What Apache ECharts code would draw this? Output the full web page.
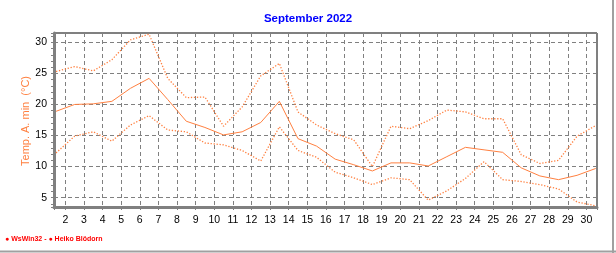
<!DOCTYPE html>
<html>
<head>
<meta charset="utf-8">
<script src="https://cdn.jsdelivr.net/npm/echarts@6/dist/echarts.min.js"></script>
<style>
html,body{margin:0;padding:0;background:#fff;}
#c{width:616px;height:253px;}
</style>
</head>
<body>
<div id="c"></div>
<script>
// Days of September 2022 (values plotted at mid-day)
var days = [1,2,3,4,5,6,7,8,9,10,11,12,13,14,15,16,17,18,19,20,21,22,23,24,25,26,27,28,29,30];
// upper dotted line
var upperValues = [25.3,26.1,25.4,27.2,30.4,31.3,24.2,21.1,21.2,16.5,19.6,24.6,26.6,18.8,16.7,15.3,14.3,10.0,16.5,16.1,17.4,19.1,18.8,17.7,17.7,11.9,10.5,11.0,14.9,16.6];
// middle solid line
var meanValues = [18.9,20.0,20.1,20.5,22.6,24.2,20.8,17.3,16.3,15.1,15.6,17.1,20.5,14.5,13.3,11.2,10.3,9.3,10.6,10.6,10.1,11.6,13.1,12.7,12.3,9.8,8.5,7.9,8.6,9.7];
// lower dotted line
var lowerValues = [12.2,14.9,15.6,14.1,16.7,18.2,15.9,15.6,13.8,13.5,12.6,10.9,16.4,12.6,11.5,9.1,8.2,7.1,8.2,7.9,4.6,6.1,8.1,10.8,7.9,7.6,7.1,6.4,4.3,3.7];
var xRange = [1.39, 30.57];
var yRange = [3.5, 31.5];
var titleText = 'September 2022';
var yName = 'Temp. A. min  (°C)';
var credit = '\u25CF WsWin32 - \u25CF Heiko Blödorn';

function pts(vals){ return days.map(function(d,i){ return [d+0.5, vals[i]]; }); }
var lineColor = '#ff8040';
var grid = '#808080';

var chart = echarts.init(document.getElementById('c'), null, {renderer:'canvas'});
chart.setOption({
  animation:false,
  backgroundColor:'#fff',
  grid:{left:54, top:33, width:543, height:174, show:true, borderColor:'#000', borderWidth:1, backgroundColor:'transparent'},
  xAxis:{
    type:'value', min:xRange[0], max:xRange[1], splitNumber:29,
    axisLine:{show:true, onZero:false, lineStyle:{color:'#808080', width:3}},
    axisTick:{show:true, length:3, lineStyle:{color:'#808080'}},
    minorTick:{show:true, splitNumber:4, length:2, lineStyle:{color:'#808080'}},
    splitLine:{show:true, lineStyle:{color:grid, type:[4,3], width:1}},
    axisLabel:{showMinLabel:false, showMaxLabel:false, color:'#000', fontSize:10.5, fontFamily:'Liberation Sans, Arial, sans-serif', margin:8,
      formatter:function(v){ return (Math.abs(v-Math.round(v))<1e-6) ? String(Math.round(v)) : ''; }}
  },
  yAxis:{
    type:'value', min:yRange[0], max:yRange[1], splitNumber:5,
    axisLine:{show:true, onZero:false, lineStyle:{color:'#808080', width:3}},
    axisTick:{show:true, length:3, lineStyle:{color:'#808080'}},
    minorTick:{show:true, splitNumber:5, length:3, lineStyle:{color:'#808080'}},
    splitLine:{show:true, lineStyle:{color:grid, type:[4,3], width:1}},
    axisLabel:{showMinLabel:false, showMaxLabel:false, color:'#000', fontSize:10.5, fontFamily:'Liberation Sans, Arial, sans-serif', margin:7,
      formatter:function(v){ return (Math.abs(v-Math.round(v))<1e-6) ? String(Math.round(v)) : ''; }}
  },
  series:[
    {type:'line', data:pts(upperValues), showSymbol:false, lineStyle:{color:lineColor, width:1.3, type:[1.3,1.7]}, z:3},
    {type:'line', data:pts(meanValues), showSymbol:false, lineStyle:{color:lineColor, width:1, type:'solid'}, z:3},
    {type:'line', data:pts(lowerValues), showSymbol:false, lineStyle:{color:lineColor, width:1.3, type:[1.3,1.7]}, z:3}
  ],
  graphic:[
    {type:'text', x:308, y:19, style:{text:titleText, fill:'#0000ff', font:'bold 11.5px Liberation Sans, Arial, sans-serif', textAlign:'center', textVerticalAlign:'middle'}},
    {type:'text', x:26, y:121, rotation:Math.PI/2, style:{text:yName, fill:lineColor, font:'11px Liberation Sans, Arial, sans-serif', textAlign:'center', textVerticalAlign:'middle'}},
    {type:'text', x:5, y:239, style:{text:credit, fill:'#ff0000', font:'bold 7px Liberation Sans, Arial, sans-serif', textAlign:'left', textVerticalAlign:'middle'}},
    {type:'line', shape:{x1:613, y1:0, x2:613, y2:253}, style:{stroke:'#a0a0a0', lineWidth:2}},
    {type:'line', shape:{x1:0, y1:251.5, x2:616, y2:251.5}, style:{stroke:'#a0a0a0', lineWidth:2}}
  ]
});
</script>
</body>
</html>
